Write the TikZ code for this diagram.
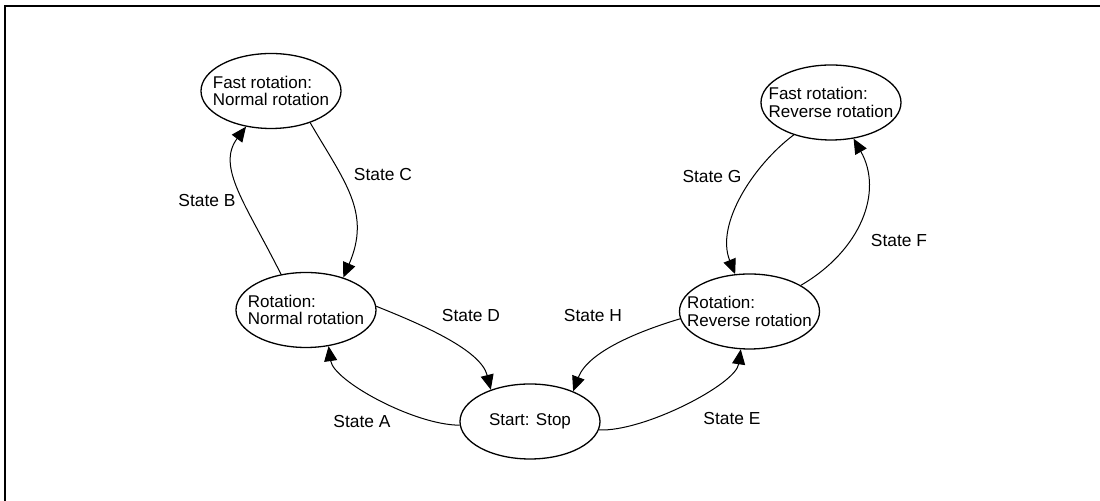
\documentclass[tikz,border=0pt]{standalone}
\usepackage{fontspec}
\setmainfont{Liberation Sans}
\usetikzlibrary{shapes.geometric,arrows.meta}
\tikzset{
  st/.style={draw, ellipse, line width=0.65pt, minimum width=70pt, minimum height=37.5pt,
             inner xsep=-10pt, inner ysep=0pt, align=left,
             font=\fontsize{8.5}{8.9}\selectfont},
  lbl/.style={inner sep=0pt, font=\fontsize{8.7}{9}\selectfont},
  tr/.style={line width=0.5pt, -{Triangle[length=7.5pt,width=6.5pt]}},
  frame/.style={line width=1pt}
}
\begin{document}
\begin{tikzpicture}[x=0.5pt,y=-0.5pt]
\useasboundingbox (0,0) rectangle (1100,501);
\coordinate (f1) at (4,6);
\coordinate (f2) at (1100,6);
\coordinate (f3) at (5,6);
\coordinate (f4) at (5,501);
\draw[frame] (f1) -- (f2);
\draw[frame] (f3) -- (f4);

\node[st] (fn) at (271,91) {Fast rotation:\\Normal rotation};
\node[st] (rn) at (306,310) {Rotation:\\Normal rotation};
\node[st] (ss) at (530,421.5) {Start: Stop};
\node[st] (rr) at (749.5,311.5) {Rotation:\\Reverse rotation};
\node[st] (fr) at (831,102.5) {Fast rotation:\\Reverse rotation};

% State B
\draw[tr] (rn.125.7) .. controls +(-35,-70) and +(-30,40) .. (fn.235);
% State C
\draw[tr] (fn.-39) .. controls +(35,60) and +(28,-65) .. (rn.41);
% State D
\draw[tr] (rn.3) .. controls +(45,18) and +(-10,-40) .. (ss.141.8);
% State A
\draw[tr] (ss.183) .. controls +(-45,0) and +(5,35) .. (rn.-58);
% State H
\draw[tr] (rr.186) .. controls +(-40,12) and +(15,-40) .. (ss.35.2);
% State E
\draw[tr] (ss.-7.7) .. controls +(45,2) and +(-5,35) .. (rr.257.5);
% State G
\draw[tr] (fr.221.5) .. controls +(-40,30) and +(-20,-50) .. (rr.111.3);
% State F
\draw[tr] (rr.27.2) .. controls +(60,-35) and +(30,53) .. (fr.-58.5);

\node[lbl] (lB) at (207,201) {State B};
\node[lbl] (lC) at (383,175) {State C};
\node[lbl] (lD) at (471,316) {State D};
\node[lbl] (lA) at (362,422) {State A};
\node[lbl] (lH) at (593,316) {State H};
\node[lbl] (lE) at (732,419) {State E};
\node[lbl] (lG) at (712,177) {State G};
\node[lbl] (lF) at (899,241) {State F};
\end{tikzpicture}
\end{document}
